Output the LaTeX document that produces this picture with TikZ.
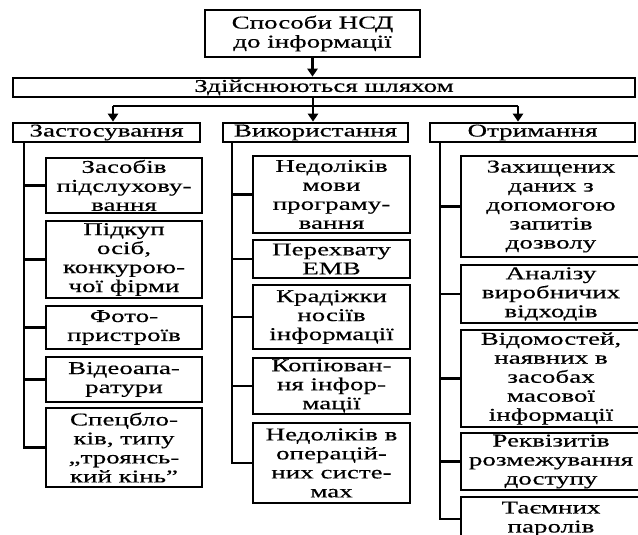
\documentclass[tikz,border=0pt]{standalone}
\usepackage{fontspec}
\usetikzlibrary{arrows.meta}
\newfontfamily\bodyfont[FakeStretch=1.5,FakeBold=0.4]{Liberation Serif}
\tikzset{
  box/.style={draw, line width=2.6pt, inner sep=0pt, align=center,
    font=\bodyfont\fontsize{18}{19}\selectfont},
  link/.style={line width=2.5pt},
  arr/.style={line width=2.5pt, -{Triangle[length=8pt,width=10pt]}},
}
\begin{document}
\begin{tikzpicture}[x=1pt,y=-1pt]
\useasboundingbox (0,0) rectangle (638,535);
\fill[white] (0,0) rectangle (638,535);
\clip (0,0) rectangle (638,535);
% top
\node[box, minimum width=215, minimum height=47] (top) at (312.5,33.5) {Способи НСД\\до інформації};
\node[box, minimum width=622, minimum height=19] (bar) at (324,87.5) {Здійснюються шляхом};
\node[box, minimum width=187, minimum height=19] (c1) at (106.5,132.5) {Застосування};
\node[box, minimum width=185, minimum height=19] (c2) at (315.5,132.5) {Використання};
\node[box, minimum width=205, minimum height=19] (c3) at (532.5,132.5) {Отримання};
% left
\node[box, minimum width=156, minimum height=55] (L1) at (124,185.5) {Засобів\\підслухову-\\вання};
\node[box, minimum width=156, minimum height=77] (L2) at (124,259.5) {Підкуп\\осіб,\\конкурою-\\чої фірми};
\node[box, minimum width=156, minimum height=43] (L3) at (124,327.5) {Фото-\\пристроїв};
\node[box, minimum width=156, minimum height=45] (L4) at (124,379.5) {Відеоапа-\\ратури};
\node[box, minimum width=156, minimum height=79] (L5) at (124,447.5) {Спецбло-\\ків, типу\\„троянсь-\\кий кінь”};
% middle
\node[box, minimum width=157, minimum height=77] (M1) at (331.5,194.5) {Недоліків\\мови\\програму-\\вання};
\node[box, minimum width=157, minimum height=38] (M2) at (331.5,259) {Перехвату\\ЕМВ};
\node[box, minimum width=157, minimum height=64] (M3) at (331.5,317) {Крадіжки\\носіїв\\інформації};
\node[box, minimum width=157, minimum height=56] (M4) at (331.5,386) {Копіюван-\\ня інфор-\\мації};
\node[box, minimum width=157, minimum height=80] (M5) at (331.5,463) {Недоліків в\\операцій-\\них систе-\\мах};
% right
\node[box, minimum width=180, minimum height=101] (R1) at (551,206.5) {Захищених\\даних з\\допомогою\\запитів\\дозволу};
\node[box, minimum width=180, minimum height=58] (R2) at (551,294) {Аналізу\\виробничих\\відходів};
\node[box, minimum width=180, minimum height=97] (R3) at (551,378.5) {Відомостей,\\наявних в\\засобах\\масової\\інформації};
\node[box, minimum width=180, minimum height=57] (R4) at (551,461.5) {Реквізитів\\розмежування\\доступу};
\node[box, minimum width=180, minimum height=44] (R5) at (551,519) {Таємних\\паролів};
% connectors top
\coordinate (s1) at (113,106);
\coordinate (s3) at (518,106);
\draw[arr] (top.south) -- (top.south |- bar.north);
\draw[arr] (bar.south -| 313,0) -- (c2.north -| 313,0);
\draw[link] (s1) -- (s3);
\draw[arr] (s1) -- (c1.north -| s1);
\draw[arr] (s3) -- (c3.north -| s3);
% left tree
\draw[link] (c1.south -| 24,0) |- (L5.west);
\foreach \n in {L1,L2,L3,L4} \draw[link] (\n.west -| 24,0) -- (\n.west);
% middle tree
\draw[link] (c2.south -| 232,0) |- (M5.west);
\foreach \n in {M1,M2,M3,M4} \draw[link] (\n.west -| 232,0) -- (\n.west);
% right tree
\draw[link] (c3.south -| 440,0) |- (R5.west);
\foreach \n in {R1,R2,R3,R4} \draw[link] (\n.west -| 440,0) -- (\n.west);
\end{tikzpicture}
\end{document}
